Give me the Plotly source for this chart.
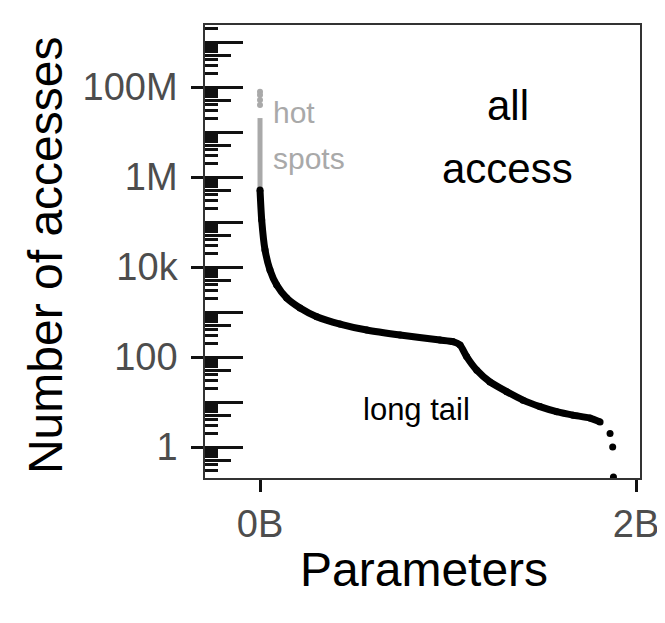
import math
import plotly.graph_objects as go

# ---- data ----
# black curve: parameters (billions) vs number of accesses
tail_x_b = [0.0, 0.009, 0.0266, 0.0532, 0.0888, 0.142, 0.213, 0.302, 0.4255, 0.5676,
            0.745, 0.957, 1.027, 1.064, 1.099, 1.153, 1.223, 1.312, 1.399, 1.489,
            1.578, 1.665, 1.755, 1.809]
tail_y = [514000, 110700, 23900, 8570, 3980, 2050, 1230, 787, 541, 398,
          308, 239, 219, 185, 102, 51, 28, 17, 11, 7.9,
          6.1, 5.1, 4.4, 3.6]
# isolated points at the end of the tail
end_x_b = [1.862, 1.876, 1.88]
end_y = [2, 1, 0.215]
# hot spots (grey)
hot_line_x_b = [0.0, 0.0]
hot_line_y = [514000, 20400000]
hot_dots_x_b = [0.0, 0.0, 0.0, 0.0]
hot_dots_y = [78700000, 66400000, 51400000, 39800000]

x_tickvals = [0, 2e9]
x_ticktext = ["0B", "2B"]
y_tickvals = [1, 100, 1e4, 1e6, 1e8]
y_ticktext = ["1", "100", "10k", "1M", "100M"]

FONT = "Liberation Sans, Arial, Helvetica, sans-serif"
GREY = "#A9A9A9"

fig = go.Figure()

fig.add_trace(go.Scatter(x=[v * 1e9 for v in hot_line_x_b], y=hot_line_y, mode="lines",
                         line=dict(color=GREY, width=5), showlegend=False))
fig.add_trace(go.Scatter(x=[v * 1e9 for v in hot_dots_x_b], y=hot_dots_y, mode="markers",
                         marker=dict(color=GREY, size=6), showlegend=False))
fig.add_trace(go.Scatter(x=[v * 1e9 for v in tail_x_b], y=tail_y, mode="lines+markers",
                         line=dict(color="black", width=7, shape="spline", smoothing=0.6),
                         marker=dict(color="black", size=7), showlegend=False))
fig.add_trace(go.Scatter(x=[v * 1e9 for v in end_x_b], y=end_y, mode="markers",
                         marker=dict(color="black", size=7), showlegend=False))

# log-tick annotation positions (axis decorations)
lo, hi = -0.689, 9.378
decades = [10.0 ** k for k in range(-1, 10) if lo <= k <= hi]
fives = [5 * 10.0 ** k for k in range(-1, 10) if lo <= math.log10(5 * 10.0 ** k) <= hi]
smalls = [d * 10.0 ** k for k in range(-1, 10) for d in (2, 3, 4, 6, 7, 8, 9)
          if lo <= math.log10(d * 10.0 ** k) <= hi]

tickcol = "#111111"
common_overlay = dict(type="log", range=[lo, hi], overlaying="y", anchor="x", side="left",
                      showticklabels=False, showgrid=False, zeroline=False, showline=False,
                      ticks="inside", tickmode="array", tickcolor=tickcol, tickwidth=2.5,
                      automargin=False)

# page body has an 8px default margin: size the figure to fill the rest of the window
fig.update_layout(
    width=657, height=615,
    margin=dict(l=197, r=25, t=17, b=145, autoexpand=False),
    paper_bgcolor="white", plot_bgcolor="white",
    font=dict(family=FONT, color="black"),
    xaxis=dict(range=[-0.2926e9, 2.0213e9], tickmode="array", tickvals=x_tickvals,
               ticktext=x_ticktext, ticks="outside", ticklen=12, tickwidth=2.5,
               tickcolor=tickcol, showgrid=False, zeroline=False, automargin=False,
               showline=True, mirror=True, linecolor="#333333", linewidth=1.5,
               tickfont=dict(size=38, color="#4D4D4D", family=FONT)),
    yaxis=dict(type="log", range=[lo, hi], tickmode="array", tickvals=y_tickvals,
               ticktext=y_ticktext, ticks="outside", ticklen=12, tickwidth=2.5,
               tickcolor=tickcol, showgrid=False, zeroline=False, automargin=False,
               showline=True, mirror=True, linecolor="#333333", linewidth=1.5,
               ticklabelstandoff=6,
               tickfont=dict(size=38, color="#4D4D4D", family=FONT)),
    yaxis2=dict(tickvals=decades, ticklen=38, **common_overlay),
    yaxis3=dict(tickvals=fives, ticklen=26, **common_overlay),
    yaxis4=dict(tickvals=smalls, ticklen=13, **common_overlay),
)

# dummy traces so overlay axes render
for ax in ("y2", "y3", "y4"):
    fig.add_trace(go.Scatter(x=[None], y=[None], yaxis=ax, showlegend=False, hoverinfo="skip"))

anns = [
    dict(text="all", x=1.319e9, y=7.6, xref="x", yref="y", showarrow=False,
         font=dict(size=42, color="black", family=FONT)),
    dict(text="access", x=1.319e9, y=6.2, xref="x", yref="y", showarrow=False,
         font=dict(size=42, color="black", family=FONT)),
    dict(text="hot", x=0.0585e9, y=7.44, xref="x", yref="y", xanchor="left", showarrow=False,
         font=dict(size=30, color=GREY, family=FONT)),
    dict(text="spots", x=0.0585e9, y=6.42, xref="x", yref="y", xanchor="left", showarrow=False,
         font=dict(size=30, color=GREY, family=FONT)),
    dict(text="long tail", x=0.83e9, y=0.844, xref="x", yref="y", showarrow=False,
         font=dict(size=31, color="black", family=FONT)),
    dict(text="Parameters", x=0.503, y=-0.203, xref="paper", yref="paper",
         xanchor="center", yanchor="middle", showarrow=False,
         font=dict(size=48, color="black", family=FONT)),
    dict(text="Number of accesses", x=-0.368, y=0.492, xref="paper", yref="paper",
         xanchor="center", yanchor="middle", textangle=-90, showarrow=False,
         font=dict(size=48, color="black", family=FONT)),
]
fig.update_layout(annotations=anns)

fig.write_html("out.html")
